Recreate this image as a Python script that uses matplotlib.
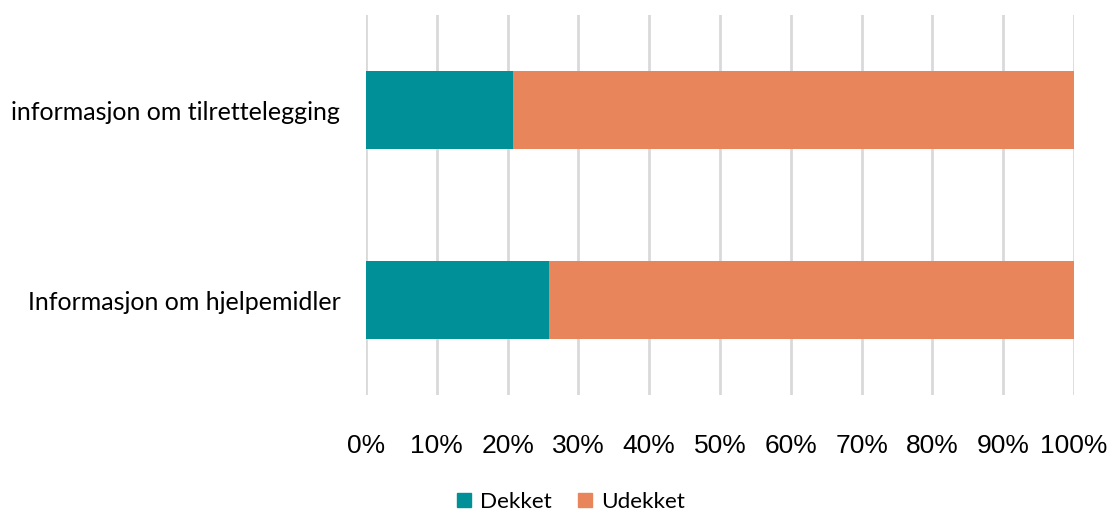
import matplotlib.pyplot as plt
from matplotlib.patches import Patch

categories = ["Informasjon om hjelpemidler", "informasjon om tilrettelegging"]
dekket = [25.8, 20.8]
udekket = [100 - v for v in dekket]
ticks = list(range(0, 101, 10))
tick_labels = [f"{t}%" for t in ticks]

teal = "#009097"
orange = "#E8855A"

fig = plt.figure(figsize=(11.11, 5.11), dpi=100)
ax = fig.add_axes([366 / 1111, 1 - 395 / 511, (1074 - 366) / 1111, 380 / 511])

y = list(range(len(categories)))
ax.barh(y, dekket, height=0.41, color=teal, zorder=3)
ax.barh(y, udekket, left=dekket, height=0.41, color=orange, zorder=3)

ax.set_xlim(0, 100)
ax.set_ylim(-0.5, 1.5)
ax.set_xticks(ticks)
ax.set_xticklabels(tick_labels, fontsize=19, family="Liberation Sans")
ax.set_yticks(y)
ax.set_yticklabels(categories, fontsize=18, family="Lato")
ax.tick_params(axis="x", length=0, pad=28)
ax.tick_params(axis="y", length=0, pad=18.5)
ax.grid(axis="x", color="#D9D9D9", linewidth=2, zorder=0)
for s in ax.spines.values():
    s.set_visible(False)

handles = [Patch(color=teal, label="Dekket"), Patch(color=orange, label="Udekket")]
fig.legend(handles=handles, loc="center", bbox_to_anchor=(0.514, 0.018), ncol=2,
           frameon=False, prop={"family": "Lato", "size": 16.2},
           handlelength=0.6, handleheight=0.6, handletextpad=0.4, columnspacing=1.2)

fig.savefig("out.png", dpi=100)
